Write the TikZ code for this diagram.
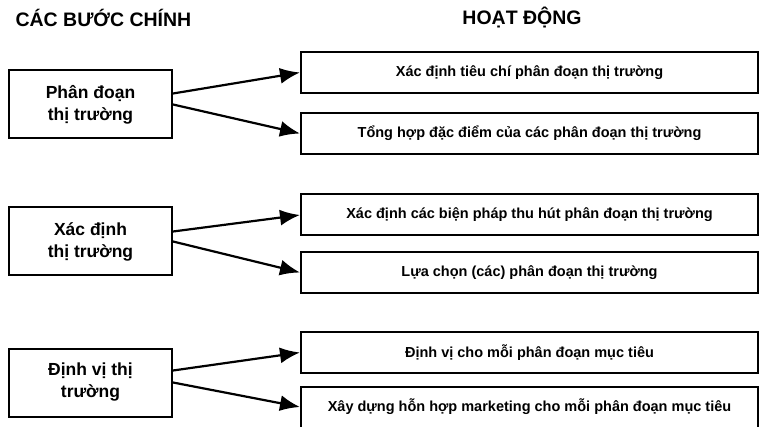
\documentclass[tikz,border=0pt]{standalone}
\usepackage{fontspec}
\setmainfont{Liberation Sans}
\usepackage{tikz}
\usetikzlibrary{arrows.meta, positioning}

\begin{document}
\begin{tikzpicture}[
    x=1pt, y=-1pt,
    heading/.style={font=\bfseries\fontsize{19.5}{22}\selectfont},
    stepbox/.style={rectangle, draw, line width=2pt, minimum width=163pt, minimum height=68pt, align=center, font=\bfseries\fontsize{17.5}{22}\selectfont},
    actbox/.style={rectangle, draw, line width=2pt, minimum width=457pt, minimum height=41pt, align=center, font=\bfseries\fontsize{14.5}{16}\selectfont},
    arrow/.style={-{Latex[length=20pt, width=16pt]}, line width=2.2pt}
]
\useasboundingbox (0,0) rectangle (762,427);

% Headings
\node[heading, anchor=west] (hsteps) at (12,18) {CÁC BƯỚC CHÍNH};
\node[heading] (hacts) at (522,18) {HOẠT ĐỘNG};

% Main steps
\node[stepbox] (seg) at (90.5,104.5) {Phân đoạn\\thị trường};
\node[stepbox] (target) at (90.5,241.5) {Xác định\\thị trường};
\node[stepbox] (pos) at (90.5,382.5) {Định vị thị\\trường};

% Activities
\node[actbox] (seg1) at (529.5,72.5) {Xác định tiêu chí phân đoạn thị trường};
\node[actbox] (seg2) at (529.5,133.5) {Tổng hợp đặc điểm của các phân đoạn thị trường};
\node[actbox] (target1) at (529.5,215) {Xác định các biện pháp thu hút phân đoạn thị trường};
\node[actbox] (target2) at (529.5,272.5) {Lựa chọn (các) phân đoạn thị trường};
\node[actbox] (pos1) at (529.5,352.5) {Định vị cho mỗi phân đoạn mục tiêu};
\node[actbox] (pos2) at (529.5,407) {Xây dựng hỗn hợp marketing cho mỗi phân đoạn mục tiêu};

% Arrows
\draw[arrow] ([yshift=11pt]seg.east) -- (seg1.west);
\draw[arrow] ([yshift=0pt]seg.east) -- (seg2.west);
\draw[arrow] ([yshift=10pt]target.east) -- (target1.west);
\draw[arrow] ([yshift=0pt]target.east) -- (target2.west);
\draw[arrow] ([yshift=12pt]pos.east) -- (pos1.west);
\draw[arrow] ([yshift=0pt]pos.east) -- (pos2.west);

\end{tikzpicture}
\end{document}
